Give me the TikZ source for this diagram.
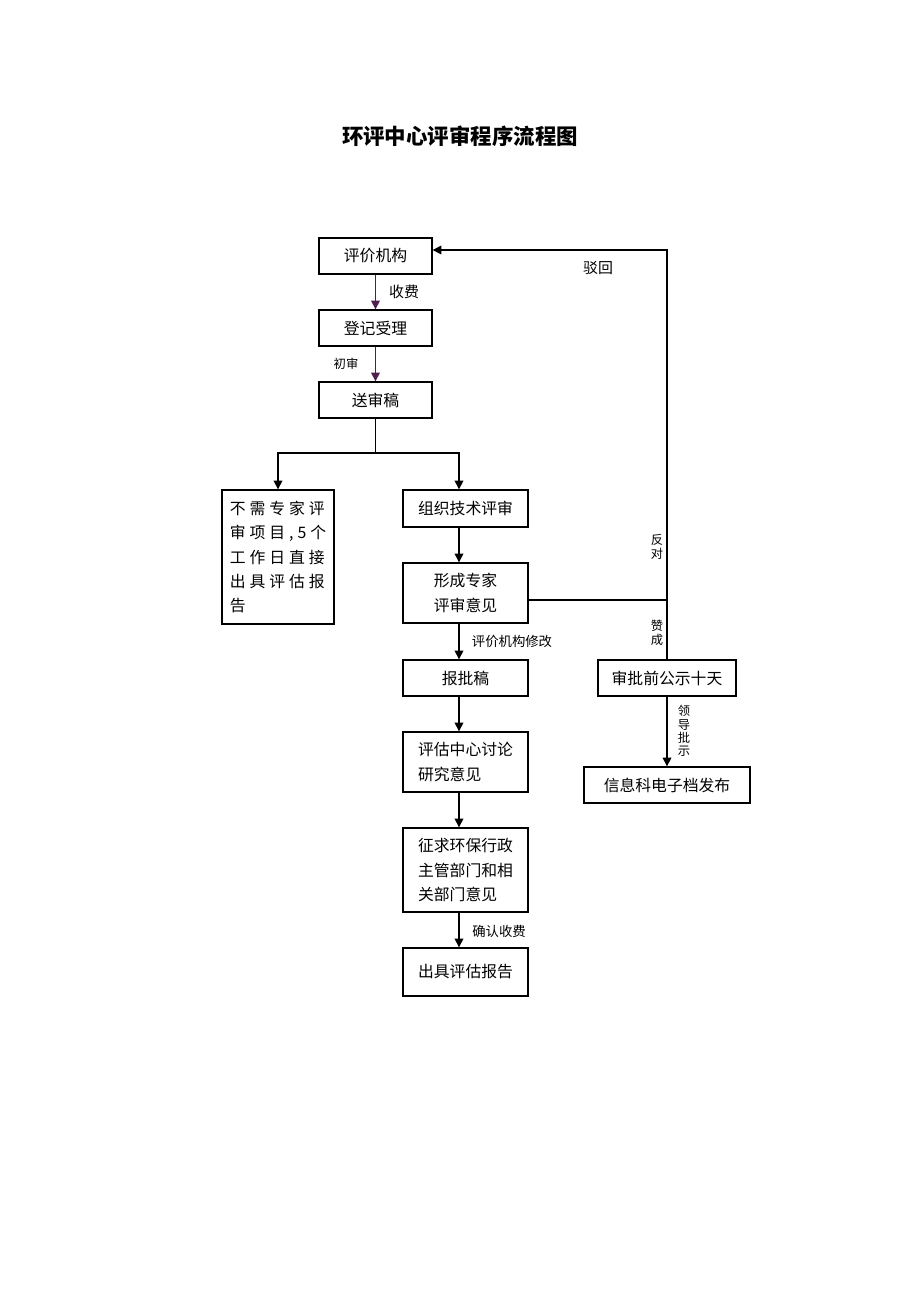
\documentclass[tikz,border=0pt]{standalone}
\usepackage{fontspec}
\setmainfont{Noto Sans CJK SC}
\newfontfamily\widecjk[LetterSpace=25]{Noto Sans CJK SC}
\usetikzlibrary{arrows.meta,positioning}
\definecolor{darkplum}{RGB}{80,30,80}

\tikzset{
	box/.style={draw, line width=0.8pt, inner sep=0pt, align=center, font=\fontsize{9}{13.8}\selectfont},
	lbl/.style={inner sep=0pt, font=\fontsize{7.6}{8}\selectfont},
	vlbl/.style={inner sep=0pt, align=center, font=\fontsize{7}{7.6}\selectfont},
	flow/.style={-{Triangle[length=5pt,width=5pt]}, line width=0.8pt},
}

\begin{document}
\begin{tikzpicture}[x=0.02cm, y=-0.02cm]
	\useasboundingbox (0,0) rectangle (920,1302);
	\node[font=\bfseries\fontsize{12.2}{14}\selectfont] (title) at (460,136) {环评中心评审程序流程图};
	% left column
	\node[box, minimum width=2.26cm, minimum height=0.72cm] (a0) at (375.5,256) {评价机构};
	\node[box, minimum width=2.26cm, minimum height=0.72cm] (a1) at (375.5,328) {登记受理};
	\node[box, minimum width=2.26cm, minimum height=0.72cm] (a2) at (375.5,400) {送审稿};
	\node[box, minimum width=2.24cm, minimum height=2.68cm, align=left, font=\widecjk\fontsize{9}{13.8}\selectfont] (a3) at (278,557)
		{不需专家评\\审项目,5个\\工作日直接\\出具评估报\\告};
	% middle column
	\node[box, minimum width=2.5cm, minimum height=0.74cm] (a4) at (465.5,508.5) {组织技术评审};
	\node[box, minimum width=2.5cm, minimum height=1.2cm] (a5) at (465.5,593) {形成专家\\评审意见};
	\node[box, minimum width=2.5cm, minimum height=0.72cm] (a6) at (465.5,678) {报批稿};
	\node[box, minimum width=2.5cm, minimum height=1.2cm, align=left] (a7) at (465.5,762) {评估中心讨论\\研究意见};
	\node[box, minimum width=2.5cm, minimum height=1.68cm, align=left] (a8) at (465.5,870) {征求环保行政\\主管部门和相\\关部门意见};
	\node[box, minimum width=2.5cm, minimum height=0.96cm] (a9) at (465.5,972) {出具评估报告};
	% right column
	\node[box, minimum width=2.76cm, minimum height=0.72cm] (a10) at (667,678) {审批前公示十天};
	\node[box, minimum width=3.32cm, minimum height=0.72cm] (a11) at (667,785) {信息科电子档发布};

	\coordinate (mx) at (459,0);
	\coordinate (sp) at (375.5,453);
	\coordinate (j) at (667,600);
	\coordinate (top) at (667,250);

	\draw[flow, darkplum] (a0) -- (a1);
	\draw[flow, darkplum] (a1) -- (a2);
	\draw[line width=0.8pt] (a2.south) -- (sp);
	\draw[flow] (sp) -| (a3.north);
	\draw[flow] (sp) -| (a4.north -| mx);
	\draw[flow] (a4.south -| mx) -- (a5.north -| mx);
	\draw[flow] (a5.south -| mx) -- (a6.north -| mx);
	\draw[flow] (a6.south -| mx) -- (a7.north -| mx);
	\draw[flow] (a7.south -| mx) -- (a8.north -| mx);
	\draw[flow] (a8.south -| mx) -- (a9.north -| mx);
	\draw[line width=0.8pt] (a5.east |- j) -- (j);
	\draw[flow] (j) -- (top) -- (top -| a0.east);
	\draw[line width=0.8pt] (j) -- (a10.north);
	\draw[flow] (a10) -- (a11);

	% labels
	\node[lbl, font=\fontsize{8.5}{9}\selectfont] (l0) at (404,292) {收费};
	\node[lbl, font=\fontsize{7}{8}\selectfont] (l1) at (346,364) {初审};
	\node[lbl, font=\fontsize{8.5}{9}\selectfont] (l2) at (598,268) {驳回};
	\node[vlbl] (l3) at (657,547) {反\\对};
	\node[vlbl] (l4) at (657,633) {赞\\成};
	\node[vlbl] (l5) at (684,731) {领\\导\\批\\示};
	\node[lbl] (l6) at (512,641) {评价机构修改};
	\node[lbl] (l7) at (499,931) {确认收费};
\end{tikzpicture}
\end{document}
